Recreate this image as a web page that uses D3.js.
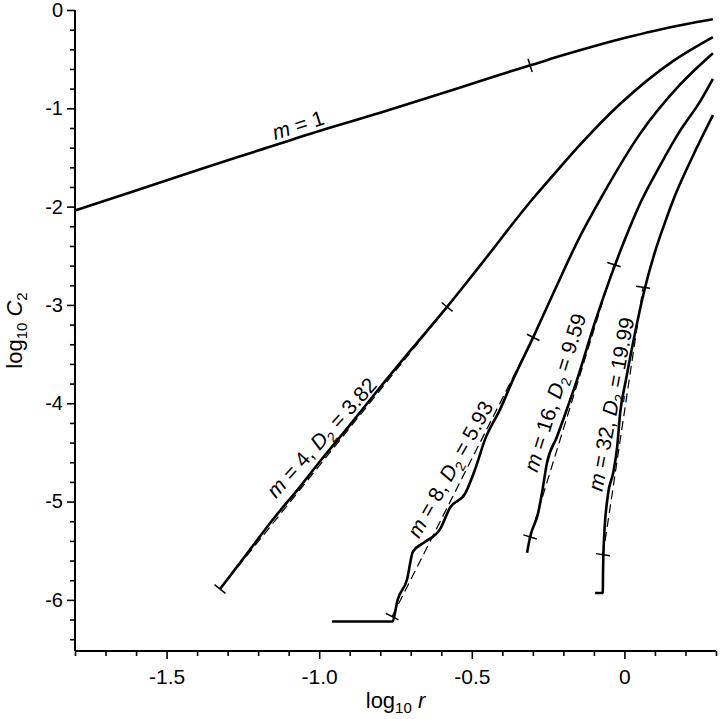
<!DOCTYPE html>
<html><head><meta charset="utf-8">
<script src="https://cdn.jsdelivr.net/npm/d3@7"></script>
<style>
body{margin:0;background:#fff}
svg{display:block}
text{font-family:"Liberation Sans",Arial,Helvetica,sans-serif;fill:#000}
</style>
</head><body>
<svg id="chart" width="720" height="719"></svg>
<script>
// ---- data (log10 r, log10 C2) ----
const m1X = [-1.8, -1.6, -1.4, -1.2, -1.0, -0.8, -0.6, -0.4, -0.3, -0.2, -0.1, 0.0, 0.1, 0.2, 0.29];
const m1Y = [-2.04, -1.835, -1.63, -1.43, -1.23, -1.045, -0.85, -0.65, -0.555, -0.458, -0.368, -0.285, -0.21, -0.145, -0.095];

const m4X = [-1.325, -1.227, -1.151, -1.063, -0.997, -0.899, -0.801, -0.700, -0.581, -0.473, -0.303, -0.211, -0.145, -0.010, 0.159, 0.29];
const m4Y = [-5.89, -5.49, -5.18, -4.85, -4.59, -4.22, -3.84, -3.46, -3.02, -2.60, -1.93, -1.60, -1.37, -0.944, -0.52, -0.275];

const m8X = [-0.958, -0.761, -0.742, -0.712, -0.693, -0.653, -0.604, -0.571, -0.522, -0.489, -0.457, -0.407, -0.365, -0.299, -0.227, -0.145, -0.080, 0.051, 0.182, 0.29];
const m8Y = [-6.22, -6.22, -5.99, -5.79, -5.51, -5.41, -5.28, -5.06, -4.92, -4.67, -4.37, -4.06, -3.76, -3.33, -2.84, -2.30, -1.93, -1.26, -0.76, -0.44];

const m16X = [-0.319, -0.309, -0.283, -0.270, -0.254, -0.221, -0.201, -0.155, -0.096, -0.047, 0.002, 0.051, 0.117, 0.182, 0.248, 0.29];
const m16Y = [-5.52, -5.36, -5.12, -4.91, -4.61, -4.34, -4.17, -3.76, -3.17, -2.73, -2.33, -1.97, -1.58, -1.23, -0.93, -0.70];

const m32X = [-0.096, -0.071, -0.070, -0.069, -0.067, -0.054, -0.037, -0.024, -0.014, 0.005, 0.035, 0.067, 0.100, 0.133, 0.159, 0.225, 0.29];
const m32Y = [-5.93, -5.93, -5.70, -5.54, -5.39, -4.93, -4.71, -4.45, -4.10, -3.76, -3.28, -2.83, -2.46, -2.16, -1.94, -1.48, -1.07];

// embedding dimensions and correlation dimensions
const embedM = [1, 4, 8, 16, 32];
const d2Labels = [null, "3.82", "5.93", "9.59", "19.99"];

// fitted straight segments (dashed), endpoints [x0, y0, x1, y1]
const fit4 = [-1.325, -5.89, -0.581, -3.02];
const fit8 = [-0.761, -6.17, -0.299, -3.33];
const fit16 = [-0.309, -5.36, -0.034, -2.59];
const fit32 = [-0.070, -5.54, 0.061, -2.82];
const m1Mark = [-0.309, -0.563];

// axis ticks
const xMajor = [-1.5, -1.0, -0.5, 0];
const xMajorLabels = ["-1.5", "-1.0", "-0.5", "0"];
const yMajor = [0, -1, -2, -3, -4, -5, -6];
const yMajorLabels = ["0", "-1", "-2", "-3", "-4", "-5", "-6"];

// ---- drawing ----
const svg = d3.select("#chart");
const x = d3.scaleLinear().domain([-1.8, 0.3]).range([75, 716]);
const y = d3.scaleLinear().domain([-6.52, 0]).range([651, 10]);

const curves = [[m1X, m1Y], [m4X, m4Y], [m8X, m8Y], [m16X, m16Y], [m32X, m32Y]];
const fits = [null, fit4, fit8, fit16, fit32];

const line = d3.line().x(d => x(d[0])).y(d => y(d[1])).curve(d3.curveMonotoneX);
const FONT = '"Liberation Sans",Arial,sans-serif';

// axes
const xMinor = d3.range(-18, 4).map(i => i / 10).filter(v => !xMajor.some(t => Math.abs(t - v) < 1e-9));
const yMinor = d3.range(0, 33).map(i => -i / 5).filter(v => !yMajor.some(t => Math.abs(t - v) < 1e-9));

const gx = svg.append("g").attr("transform", `translate(0,${y(-6.52)})`);
gx.call(d3.axisBottom(x).tickValues(xMinor).tickSize(5).tickFormat(""));
gx.select(".domain").remove();
const gx2 = svg.append("g").attr("transform", `translate(0,${y(-6.52)})`);
gx2.call(d3.axisBottom(x).tickValues(xMajor).tickSize(8).tickPadding(10)
  .tickFormat((d, i) => xMajorLabels[i]));
gx2.selectAll("text").attr("font-size", 21).attr("font-family", FONT);

const gy = svg.append("g").attr("transform", `translate(${x(-1.8)},0)`);
gy.call(d3.axisLeft(y).tickValues(yMinor).tickSize(5).tickFormat(""));
gy.select(".domain").remove();
const gy2 = svg.append("g").attr("transform", `translate(${x(-1.8)},0)`);
gy2.call(d3.axisLeft(y).tickValues(yMajor).tickSize(8).tickPadding(4)
  .tickFormat((d, i) => yMajorLabels[i]));
gy2.selectAll("text").attr("font-size", 20).attr("font-family", FONT);

svg.selectAll(".domain").attr("stroke-width", 2).attr("stroke", "#000");
svg.selectAll(".tick line").attr("stroke-width", 1.6).attr("stroke", "#000");
gx2.select(".domain").attr("d", `M${x(-1.8)},0H${x(0.3)}`);
gy2.select(".domain").attr("d", `M0,${y(-6.52)}V${y(0)}`);

// curves
curves.forEach(([xs, ys]) => {
  svg.append("path")
    .datum(xs.map((v, i) => [v, ys[i]]))
    .attr("d", line)
    .attr("fill", "none").attr("stroke", "#000").attr("stroke-width", 2.6)
    .attr("stroke-linejoin", "round");
});

// dashed fit lines and end marks
function mark(px, py, dx, dy) {
  const L = Math.hypot(dx, dy), nx = -dy / L, ny = dx / L, h = 7;
  svg.append("line")
    .attr("x1", px - nx * h).attr("y1", py - ny * h)
    .attr("x2", px + nx * h).attr("y2", py + ny * h)
    .attr("stroke", "#000").attr("stroke-width", 1.5);
}
fits.forEach(f => {
  if (!f) return;
  const x0 = x(f[0]), y0 = y(f[1]), x1 = x(f[2]), y1 = y(f[3]);
  svg.append("line").attr("x1", x0).attr("y1", y0).attr("x2", x1).attr("y2", y1)
    .attr("stroke", "#000").attr("stroke-width", 1.2).attr("stroke-dasharray", "9,5");
  mark(x0, y0, x1 - x0, y1 - y0);
  mark(x1, y1, x1 - x0, y1 - y0);
});
mark(x(m1Mark[0]), y(m1Mark[1]), x(-0.2) - x(-0.4), y(-0.458) - y(-0.65));

// curve labels: [x, y, angle]
const labelAt = [[-1.069, -1.17, -17.7], [-0.992, -4.35, -48], [-0.571, -4.67, -60.5], [-0.228, -3.89, -72.5], [-0.044, -4.01, -79.5]];
embedM.forEach((m, i) => {
  const [lx, ly, ang] = labelAt[i];
  const t = svg.append("text")
    .attr("transform", `translate(${x(lx)},${y(ly)}) rotate(${ang})`)
    .attr("text-anchor", "middle").attr("dy", "0.35em").attr("font-size", 21);
  t.append("tspan").attr("font-style", "italic").text("m");
  t.append("tspan").text(" = " + m + (d2Labels[i] ? ", " : ""));
  if (d2Labels[i]) {
    t.append("tspan").attr("font-style", "italic").text("D");
    t.append("tspan").attr("font-size", 14).attr("dy", 5).text("2");
    t.append("tspan").attr("dy", -5).text(" = " + d2Labels[i]);
  }
});

// axis titles
const xt = svg.append("text").attr("x", (x(-1.8) + x(0.3)) / 2).attr("y", 708)
  .attr("text-anchor", "middle").attr("font-size", 22);
xt.append("tspan").text("log");
xt.append("tspan").attr("font-size", 15).attr("dy", 5).text("10");
xt.append("tspan").attr("dy", -5).text(" ");
xt.append("tspan").attr("font-style", "italic").text("r");

const yt = svg.append("text").attr("transform", `translate(22,${(y(0) + y(-6.52)) / 2}) rotate(-90)`)
  .attr("text-anchor", "middle").attr("font-size", 22);
yt.append("tspan").text("log");
yt.append("tspan").attr("font-size", 15).attr("dy", 5).text("10");
yt.append("tspan").attr("dy", -5).text(" ");
yt.append("tspan").attr("font-style", "italic").text("C");
yt.append("tspan").attr("font-size", 15).attr("dy", 5).text("2");
</script>
</body></html>
